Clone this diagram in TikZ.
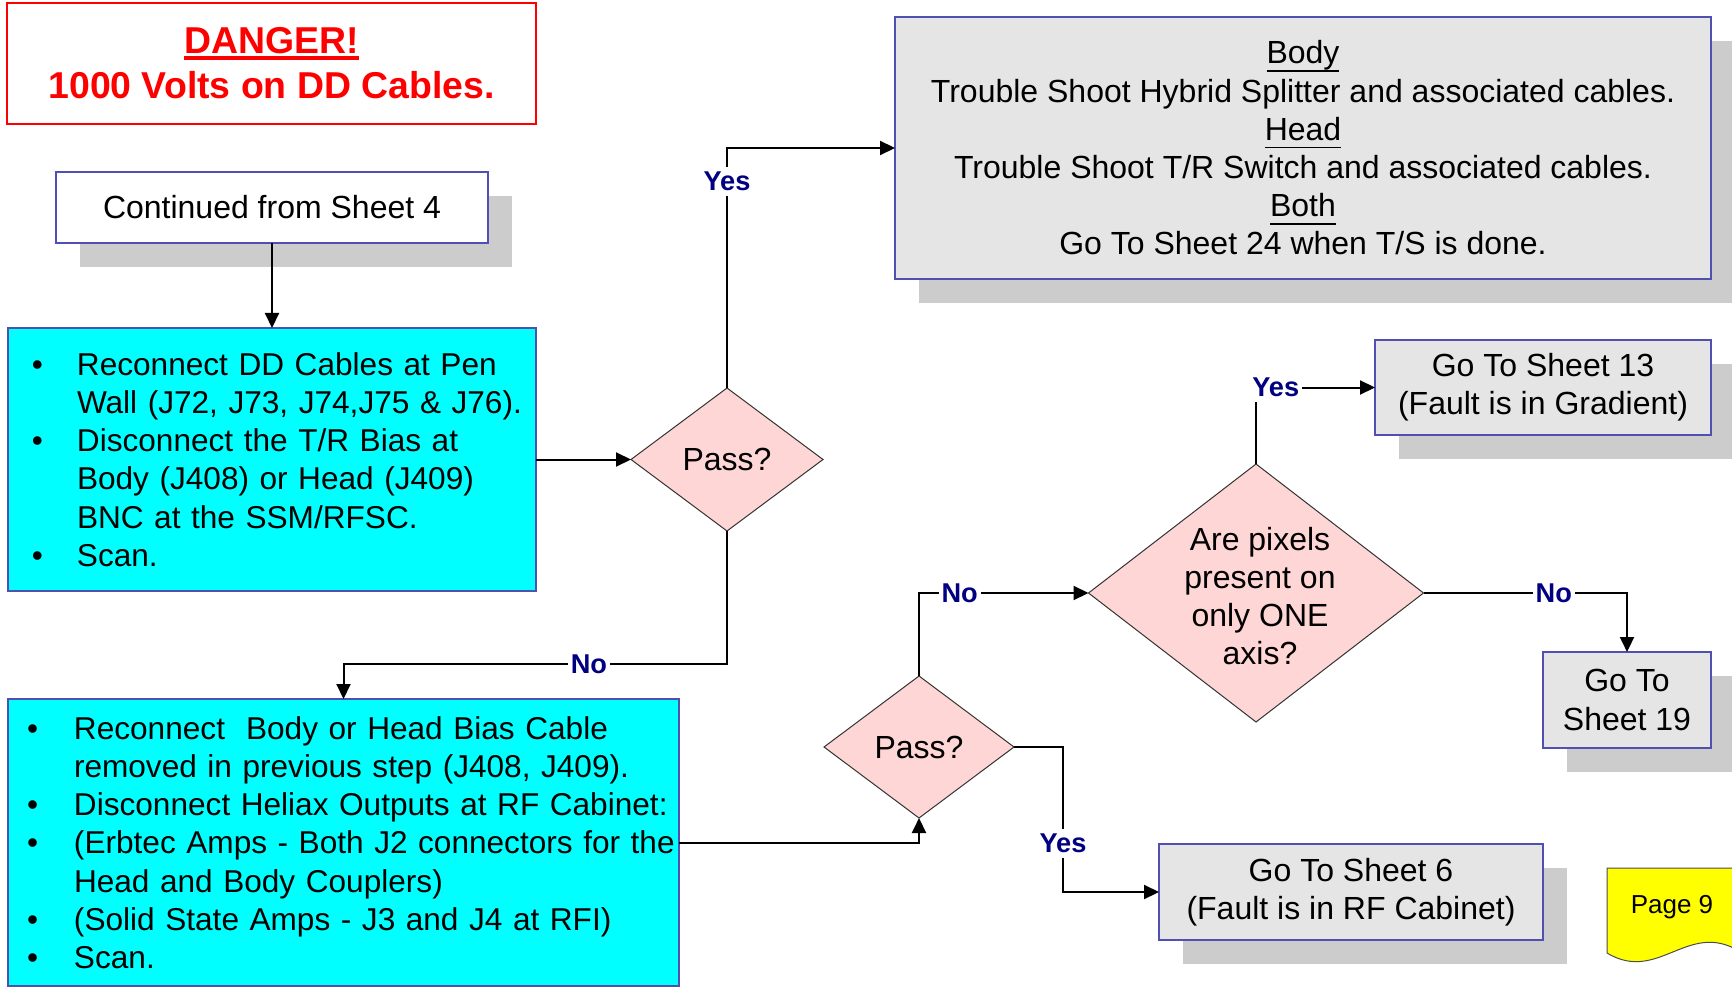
\documentclass[tikz,border=0pt]{standalone}
\usepackage{fontspec}
\setmainfont{Liberation Sans}
\usetikzlibrary{shapes.geometric,arrows.meta,calc,shadows}

\definecolor{boxline}{RGB}{80,80,176}
\definecolor{panelgray}{RGB}{229,229,229}
\definecolor{shadowgray}{RGB}{204,204,204}
\definecolor{stepcyan}{RGB}{0,255,255}
\definecolor{decpink}{RGB}{255,214,214}
\definecolor{lblnavy}{RGB}{0,0,128}
\definecolor{tagyellow}{RGB}{255,255,0}

% underline with explicit depth and thickness
\newsavebox\ulbox
\newcommand\myul[3]{\sbox\ulbox{#1}\rlap{\rule[#2]{\wd\ulbox}{#3}}\usebox\ulbox}
\newcommand\hdr[1]{\myul{#1}{-4pt}{0.8pt}}
% bullet list rows inside the step boxes
\newcommand\bulletrow[2]{\makebox[#1][l]{•}\mbox{#2}}
\newcommand\plainrow[2]{\hspace*{#1}\mbox{#2}}

\begin{document}
\begin{tikzpicture}[x=0.5pt,y=-0.5pt,
  base/.style={inner sep=0pt, outer sep=0pt, font=\fontsize{16}{19.1}\selectfont, align=center},
  shadowed/.style={general shadow={fill=shadowgray, shadow xshift=12pt, shadow yshift=-12pt}},
  panel/.style={base, rectangle, draw=boxline, line width=0.6pt, fill=panelgray, shadowed},
  startbox/.style={base, rectangle, draw=boxline, line width=0.6pt, fill=white, shadowed},
  stepbox/.style={base, rectangle, draw=boxline, line width=0.6pt, fill=stepcyan, align=left,
    font=\fontsize{15.8}{19.1}\selectfont},
  warnbox/.style={base, rectangle, draw=red, line width=1.1pt, fill=white, text=red,
    font=\bfseries\fontsize{18.7}{22.5}\selectfont},
  decision/.style={base, diamond, draw=black!80, line width=0.5pt, fill=decpink},
  link/.style={draw, line width=1pt, -{Triangle[length=7.5pt,width=7pt]}},
  lbl/.style={fill=white, text=lblnavy, inner xsep=1.5pt, inner ysep=2.5pt,
    font=\bfseries\fontsize{13.6}{15}\selectfont},
]
\useasboundingbox (0,0) rectangle (1732,989);
\clip (0,0) rectangle (1732,989);

% warning banner
\node[warnbox, minimum width=264.5pt, minimum height=60.5pt] (danger) at (271.5,63.5)
  {\myul{DANGER!}{-2.9pt}{1.75pt}\\1000 Volts on DD Cables.};

% start
\node[startbox, minimum width=216pt, minimum height=35.5pt] (cont) at (272,207.5)
  {Continued from Sheet 4};

% first step
\node[stepbox, minimum width=264pt, minimum height=131.5pt, text width=240pt, inner xsep=12pt]
  (recon) at (272,459.5) {%
  \bulletrow{22.5pt}{Reconnect DD Cables at Pen}\\
  \plainrow{22.5pt}{Wall (J72, J73, J74,J75 \& J76).}\\
  \bulletrow{22.5pt}{Disconnect the T/R Bias at}\\
  \plainrow{22.5pt}{Body (J408) or Head (J409)}\\
  \plainrow{22.5pt}{BNC at the SSM/RFSC.}\\
  \bulletrow{22.5pt}{Scan.}};

\node[decision, minimum width=96pt, minimum height=71.5pt] (pass1) at (727,459.5) {Pass?};

% trouble shoot instructions
\node[panel, minimum width=408pt, minimum height=131pt] (body) at (1303,148) {%
  \hdr{Body}\\
  Trouble Shoot Hybrid Splitter and associated cables.\\
  \hdr{Head}\\
  Trouble Shoot T/R Switch and associated cables.\\
  \hdr{Both}\\
  Go To Sheet 24 when T/S is done.};

% second step
\node[stepbox, minimum width=335.5pt, minimum height=143.5pt, text width=316.5pt, inner xsep=9.5pt]
  (remove) at (343.5,842.5) {%
  \bulletrow{23.5pt}{Reconnect~ Body or Head Bias Cable}\\
  \plainrow{23.5pt}{removed in previous step (J408, J409).}\\
  \bulletrow{23.5pt}{Disconnect Heliax Outputs at RF Cabinet:}\\
  \bulletrow{23.5pt}{(Erbtec Amps - Both J2 connectors for the}\\
  \plainrow{23.5pt}{Head and Body Couplers)}\\
  \bulletrow{23.5pt}{(Solid State Amps - J3 and J4 at RFI)}\\
  \bulletrow{23.5pt}{Scan.}};

\node[decision, minimum width=95pt, minimum height=71pt] (pass2) at (919,747) {Pass?};

\node[decision, minimum width=167.5pt, minimum height=129pt] (axis) at (1256,593) {};
\node[base] (axistext) at (1260,596) {Are pixels\\present on\\only ONE\\axis?};

% destinations
\node[panel, minimum width=168pt, minimum height=47.5pt] (sheet13) at (1543,387.5)
  {Go To Sheet 13\\(Fault is in Gradient)};
\node[panel, minimum width=84pt, minimum height=48pt] (sheet19) at (1627,700)
  {Go To\\Sheet 19};
\node[panel, minimum width=192pt, minimum height=48pt] (sheet6) at (1351,892)
  {Go To Sheet 6\\(Fault is in RF Cabinet)};

% connectors
\draw[link] (cont.south) -- (recon.north);
\draw[link] (recon.east) -- (pass1.west);
\draw[link] (pass1.north) |- node[lbl, pos=0.43] {Yes} (body.west);
\draw[link] (pass1.south) |- node[lbl, pos=0.68] {No} ($(remove.north)+(0,-35)$) -- (remove.north);
\draw[link] (remove.east) -| (pass2.south);
\draw[link] (pass2.north) |- node[lbl, pos=0.62] {No} (axis.west);
\draw[link] (pass2.east) -- ++(49,0) |- node[lbl, pos=0.333] {Yes} (sheet6.west);
\draw[link] (axis.north) |- node[lbl, pos=0.583] {Yes} (sheet13.west);
\draw[link] (axis.east) -| node[lbl, pos=0.32] {No} (sheet19.north);

% page tag
\path[draw=black!70, line width=0.5pt, fill=tagyellow]
  (1607,953) -- (1607,868) -- (1745,868) -- (1745,955)
  .. controls (1690,915) and (1660,985) .. (1607,953) -- cycle;
\node[font=\fontsize{13}{15}\selectfont] (pagetag) at (1672,907) {Page 9};
\end{tikzpicture}
\end{document}
